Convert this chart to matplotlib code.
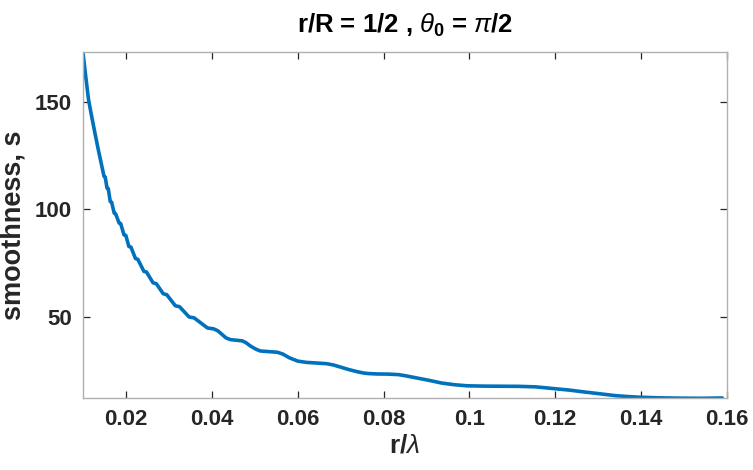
import matplotlib
matplotlib.use("Agg")
import matplotlib.pyplot as plt

plt.rcParams["font.family"] = ["Liberation Sans", "DejaVu Sans"]
plt.rcParams["mathtext.fontset"] = "custom"
plt.rcParams["mathtext.rm"] = "Liberation Sans"
plt.rcParams["mathtext.it"] = "Liberation Sans:italic"
plt.rcParams["mathtext.bf"] = "Liberation Sans:bold"

# r/lambda vs smoothness s
r_lambda = [
    0.0100, 0.0106, 0.0113, 0.0120, 0.0128, 0.0136, 0.0143,
    0.01490, 0.01518, 0.01559, 0.01589, 0.01635, 0.01667,
    0.01727, 0.01761, 0.01841, 0.01879, 0.01955, 0.01999,
    0.02069, 0.02117, 0.02222, 0.02278, 0.0242, 0.0248,
    0.02632, 0.02708, 0.0287, 0.0295, 0.03152, 0.03248,
    0.03472, 0.03588, 0.0390, 0.0404, 0.0414, 0.0433, 0.0443, 0.0471,
    0.0480, 0.0490, 0.0503, 0.0513, 0.0553, 0.0565, 0.0581, 0.0600,
    0.0620, 0.0667, 0.0683, 0.0700, 0.0720, 0.0740, 0.0755,
    0.0765, 0.0785, 0.0810, 0.0835, 0.0853, 0.0876,
    0.0907, 0.0935, 0.0965, 0.0995, 0.1035, 0.1075, 0.1115, 0.1155,
    0.1186, 0.1233, 0.1265, 0.1295, 0.1320, 0.1341, 0.1370, 0.1395,
    0.1442, 0.1496, 0.1545, 0.1589,
]
smoothness = [
    173.1, 162.5, 151.0, 143.5, 135.4, 127.5, 121.0,
    115.4, 115.1, 110.0, 109.7, 103.7, 103.4,
    98.3, 98.0, 93.7, 93.4, 88.2, 87.9,
    82.8, 82.5, 77.2, 76.8, 71.2, 70.9,
    65.9, 65.5, 60.8, 60.4, 55.2, 54.8,
    50.0, 49.6, 44.9, 44.5, 43.6, 40.3, 39.5, 38.9,
    38.0, 36.5, 35.0, 34.2, 33.6, 32.8, 31.0, 29.5,
    28.9, 28.3, 27.7, 26.7, 25.5, 24.5, 23.9,
    23.7, 23.5, 23.45, 23.2, 22.6, 21.7,
    20.5, 19.3, 18.5, 18.0, 17.85, 17.8, 17.75, 17.5,
    16.9, 16.0, 15.2, 14.5, 13.9, 13.4, 13.0, 12.7,
    12.4, 12.25, 12.2, 12.35,
]

fig = plt.figure(figsize=(7.53, 4.70), dpi=100)
ax = fig.add_axes([0.1102, 0.1526, 0.8553, 0.7361])

ax.plot(r_lambda, smoothness, color="#0072BD", lw=2.6,
        solid_joinstyle="round", solid_capstyle="round")

ax.set_xlim(0.01, 0.16)
ax.set_ylim(12.2, 173.1)
ax.set_xticks([0.02, 0.04, 0.06, 0.08, 0.1, 0.12, 0.14, 0.16])
ax.set_xticklabels(["0.02", "0.04", "0.06", "0.08", "0.1", "0.12", "0.14", "0.16"])
ax.set_yticks([50, 100, 150])

for s in ax.spines.values():
    s.set_color("#b0b0b0")
    s.set_linewidth(1.0)
ax.tick_params(direction="in", length=5, width=0.9, color="#262626",
               top=True, right=True, labelsize=16, labelcolor="#262626", pad=8)
for lab in ax.get_xticklabels() + ax.get_yticklabels():
    lab.set_fontweight("bold")

ax.set_xlabel(r"r/$\lambda$", fontsize=19, fontweight="bold", color="#262626", labelpad=2)
ax.set_ylabel("smoothness, s", fontsize=19.5, fontweight="bold", color="#262626", labelpad=6)
ax.set_title(r"r/R = 1/2 , $\theta_{\mathbf{0}}$ = $\pi$/2", fontsize=18.5,
             fontweight="bold", color="#000000", pad=14)

fig.savefig("out.png", dpi=100)
